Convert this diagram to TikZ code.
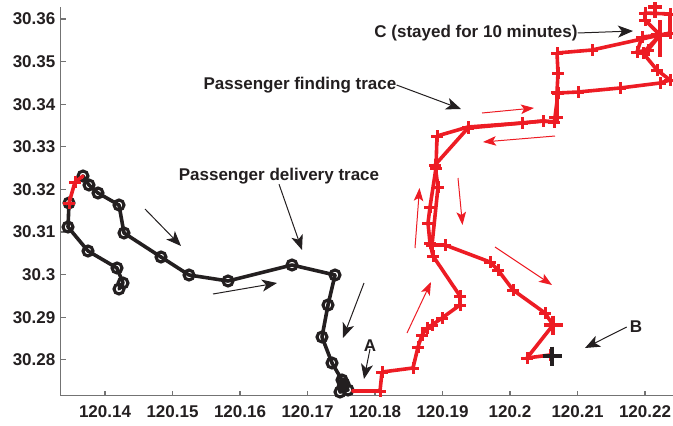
\documentclass[tikz,border=0pt]{standalone}
\usepackage{fontspec}
\setmainfont{Liberation Sans}
\usetikzlibrary{arrows.meta}
\definecolor{plotred}{RGB}{237,28,36}
\definecolor{inkc}{RGB}{35,31,32}
\tikzset{
  lbl/.style={font=\bfseries\fontsize{17}{20}\selectfont, text=inkc, inner sep=0pt},
  axisln/.style={line width=1.1pt, black!55},
  traceln/.style={line width=3.6pt, line cap=round, line join=round},
  ringmk/.pic={\draw[line width=3.1pt] (0,0) circle[radius=5pt];},
  plusmk/.pic={\draw[line width=3pt] (-6,0)--(6,0) (0,-6)--(0,6);},
  bigplus/.pic={\draw[line width=3.2pt] (-9.5,0)--(9.5,0) (0,-9.5)--(0,9.5);},
  blkarr/.style={inkc, line width=1pt, -{Stealth[length=15pt, width=12pt, inset=4pt]}},
  redarr/.style={plotred, line width=1pt, -{Stealth[length=13pt, width=9.5pt, inset=3pt]}}
}
% trace points (px)
\def\dlvA{69/203, 68/227, 88/251, 117/268, 123/283, 119/289}
\def\dlvB{83/176, 89/185, 98/193, 119/205, 124/233, 161/257, 189/275, 228/281, 292/265, 335/275, 328/305, 322/337, 332/363, 342/380, 343/387, 348/390, 340/392, 344/384}
\def\fndA{69/203, 75/182}
\def\fndB{380/391, 382/372, 413/368, 418/347, 422/335, 427/328, 432/325, 442/318, 460/305, 460/296, 433/256, 430/243, 428/223, 430/207, 436/168, 437/136, 468/127, 522/123, 543/121, 554/122, 557/117, 557/92, 558/73, 557/53, 592/50, 660/35, 670/33, 670/14, 645/13, 645/20, 660/35, 642/37, 637/52, 648/50, 660/35, 643/53, 657/70, 670/80, 660/83, 620/88, 578/92, 558/93, 555/117, 554/122, 543/121, 522/123, 468/128, 435/165, 438/187, 432/245, 445/245, 490/262, 498/270, 513/290, 545/313, 553/325, 527/358, 550/355}
\begin{document}
\begin{tikzpicture}[x=1pt, y=-1pt]
\useasboundingbox (0,0) rectangle (673,426);
% axes
\draw[axisln] (60.7,7)--(60.7,395.7)--(673,395.7);
\foreach \x/\xtext [count=\i] in {105/120.14,172.5/120.15,240/120.16,307.5/120.17,375/120.18,442.5/120.19,510/120.2,577.5/120.21,645/120.22}
{
	\draw[axisln] (\x,395.7)--(\x,390.7);
	\node[lbl] (xt\i) at (\x,412) {\xtext};
}
\foreach \y/\ytext [count=\i] in {19/30.36,61.6/30.35,104.2/30.34,146.8/30.33,189.4/30.32,232/30.31,274.6/30.3,317.2/30.29,359.8/30.28}
{
	\draw[axisln] (60.7,\y)--(65.7,\y);
	\node[lbl, anchor=east] (yt\i) at (55.5,\y) {\ytext};
}
% delivery trace
\foreach \px/\py [remember=\px as \lx (initially 69), remember=\py as \ly (initially 203)] in \dlvA
	\draw[traceln, inkc] (\lx,\ly)--(\px,\py);
\foreach \px/\py [remember=\px as \lx (initially 83), remember=\py as \ly (initially 176)] in \dlvB
	\draw[traceln, inkc] (\lx,\ly)--(\px,\py);
\foreach \px/\py in \dlvA {\pic[inkc] at (\px,\py) {ringmk};}
\foreach \px/\py in \dlvB {\pic[inkc] at (\px,\py) {ringmk};}
% finding trace
\draw[traceln, plotred] (69,203)--(75,182)--(83,176);
\draw[traceln, plotred] (353,391)--(380,391);
\foreach \px/\py [remember=\px as \lx (initially 380), remember=\py as \ly (initially 391)] in \fndB
	\draw[traceln, plotred] (\lx,\ly)--(\px,\py);
\foreach \px/\py in \fndA {\pic[plotred] at (\px,\py) {plusmk};}
\foreach \px/\py in \fndB {\pic[plotred] at (\px,\py) {plusmk};}
\foreach \px/\py in {553/325, 660/35} {\pic[plotred] at (\px,\py) {bigplus};}
\draw[plotred, line width=3.2pt] (655,2)--(655,18) (648,7)--(662,7) (660,20)--(660,57);
\pic[inkc] at (552,356) {bigplus};
% direction arrows
\draw[blkarr] (145,209)--(181,246);
\draw[blkarr] (213,294)--(277,283);
\draw[blkarr] (364,283)--(343,338);
\draw[redarr] (407,333)--(431,282);
\draw[redarr] (415,248)--(419.5,188);
\draw[redarr] (458,178)--(462.5,225);
\draw[redarr] (495,247)--(552,285);
\draw[redarr] (482,113)--(534,108);
\draw[redarr] (555,136)--(483,142);
% labels
\node[lbl] (findlbl) at (300,85) {Passenger finding trace};
\node[lbl] (delivlbl) at (279,176) {Passenger delivery trace};
\node[lbl] (clbl) at (476,33) {C (stayed for 10 minutes)};
\node[lbl] (albl) at (370,346) {A};
\node[lbl] (blbl) at (636,327) {B};
\coordinate (findend) at (461,109);
\coordinate (delivend) at (302,250);
\coordinate (cend) at (633,31);
\coordinate (aend) at (364,379);
\coordinate (bend) at (585,348);
\draw[blkarr] (findlbl.east)--(findend);
\draw[blkarr] (delivlbl.south)--(delivend);
\draw[blkarr] (clbl.east)--(cend);
\draw[blkarr] ([yshift=3pt]albl.south)--(aend);
\draw[blkarr] ([xshift=-3pt]blbl.west)--(bend);
\end{tikzpicture}
\end{document}
